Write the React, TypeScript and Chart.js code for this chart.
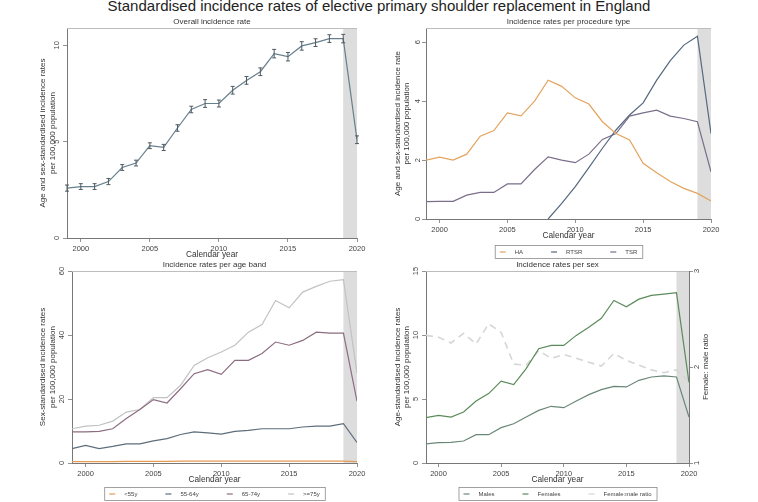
import React, { useEffect, useRef } from "react";
import { Chart, registerables } from "chart.js";
Chart.register(...registerables);

const FONT = '"Liberation Sans", Arial, sans-serif';

// ---------- data ----------
const years = [1999, 2000, 2001, 2002, 2003, 2004, 2005, 2006, 2007, 2008, 2009, 2010, 2011, 2012, 2013, 2014, 2015, 2016, 2017, 2018, 2019, 2020];
const xTicks = [2000, 2005, 2010, 2015, 2020];

const overallRate = [2.59, 2.67, 2.67, 2.93, 3.66, 3.89, 4.79, 4.70, 5.71, 6.67, 6.98, 6.98, 7.67, 8.18, 8.63, 9.57, 9.41, 9.97, 10.14, 10.35, 10.35, 5.10];
const overallLower = [2.43, 2.52, 2.52, 2.77, 3.51, 3.74, 4.64, 4.54, 5.54, 6.50, 6.78, 6.80, 7.47, 7.98, 8.43, 9.35, 9.19, 9.75, 9.94, 10.15, 10.13, 4.90];
const overallUpper = [2.75, 2.82, 2.82, 3.09, 3.81, 4.04, 4.94, 4.86, 5.88, 6.84, 7.18, 7.16, 7.87, 8.38, 8.83, 9.79, 9.63, 10.19, 10.34, 10.55, 10.57, 5.30];
const overallTicks = [0, 5, 10];

const haRate = [2.0, 2.1, 2.0, 2.2, 2.81, 3.0, 3.6, 3.5, 4.0, 4.71, 4.5, 4.11, 3.9, 3.3, 2.9, 2.68, 1.89, 1.57, 1.27, 1.04, 0.87, 0.61];
const rtsrRate = [null, null, null, null, null, null, null, null, null, 0.0, 0.53, 1.1, 1.74, 2.4, 3.02, 3.53, 3.94, 4.71, 5.37, 5.9, 6.2, 2.9];
const tsrRate = [0.59, 0.6, 0.6, 0.81, 0.9, 0.9, 1.19, 1.19, 1.68, 2.11, 2.0, 1.91, 2.2, 2.7, 2.9, 3.49, 3.6, 3.69, 3.49, 3.41, 3.3, 1.6];
const procTicks = [0, 2, 4, 6];

const ageUnder55 = [0.4, 0.4, 0.4, 0.4, 0.5, 0.5, 0.5, 0.5, 0.6, 0.6, 0.6, 0.6, 0.6, 0.6, 0.6, 0.6, 0.6, 0.6, 0.6, 0.6, 0.6, 0.4];
const age55to64 = [4.5, 5.5, 4.5, 5.2, 6.0, 6.0, 6.9, 7.6, 8.9, 9.7, 9.4, 9.0, 9.9, 10.2, 10.7, 10.7, 10.7, 11.25, 11.5, 11.5, 12.3, 6.4];
const age65to74 = [9.7, 9.7, 9.9, 10.7, 13.9, 16.7, 19.8, 18.75, 23.2, 27.9, 29.2, 27.7, 32.1, 32.1, 34.2, 37.8, 36.8, 38.3, 40.9, 40.6, 40.6, 19.3];
const age75plus = [10.7, 11.5, 11.8, 13.1, 15.9, 16.7, 20.4, 20.4, 24.3, 30.5, 32.9, 34.7, 36.8, 40.9, 43.3, 50.8, 48.5, 53.4, 55.2, 56.8, 57.3, 28.1];
const ageTicks = [0, 20, 40, 60];

const maleRate = [1.5, 1.59, 1.61, 1.72, 2.21, 2.21, 2.76, 3.07, 3.59, 4.11, 4.43, 4.32, 4.84, 5.34, 5.73, 5.99, 5.94, 6.46, 6.72, 6.8, 6.72, 3.59];
const femaleRate = [3.54, 3.72, 3.59, 3.98, 4.84, 5.42, 6.4, 6.12, 7.37, 8.93, 9.19, 9.19, 9.97, 10.6, 11.3, 12.7, 12.2, 12.8, 13.1, 13.2, 13.3, 6.3];
const femaleMaleRatio = [2.33, 2.31, 2.25, 2.35, 2.24, 2.45, 2.36, 2.03, 2.02, 2.17, 2.09, 2.13, 2.09, 2.05, 2.01, 2.14, 2.07, 2.02, 1.97, 1.94, 1.97, 1.85];
const sexTicks = [0, 5, 10, 15];
const ratioTicks = [1, 2, 3];

const shadeFrom = 2019;
const shadeTo = 2020;

// ---------- helpers ----------
const pts = (arr: (number | null)[]) => years.map((x, i) => ({ x, y: arr[i] }));

function line(label: string, arr: (number | null)[], color: string, extra: any = {}) {
  return {
    label,
    data: pts(arr),
    borderColor: color,
    backgroundColor: color,
    borderWidth: 1.2,
    pointRadius: 0,
    tension: 0,
    spanGaps: false,
    ...extra,
  };
}

function xScale() {
  return {
    type: "linear",
    min: 1999,
    max: 2020,
    afterBuildTicks: (s: any) => { s.ticks = xTicks.map((v) => ({ value: v })); },
    afterFit: (s: any) => { s.height = 22; },
    ticks: { font: { size: 7.5, family: FONT }, color: "#444", padding: 2, maxRotation: 0, autoSkip: false, callback: (v: any) => String(v) },
    grid: { drawOnChartArea: false, drawTicks: true, tickLength: 4, color: "#777", lineWidth: 0.8 },
    border: { display: true, color: "#777", width: 1 },
    title: { display: true, text: "Calendar year", font: { size: 8.3, family: FONT }, color: "#333", padding: { top: 0, bottom: 0 } },
  };
}

function yScale(min: number, max: number, ticks: number[], width: number, title: string[] | null, titlePad: number, position = "left") {
  return {
    type: "linear",
    position,
    min,
    max,
    afterBuildTicks: (s: any) => { s.ticks = ticks.map((v) => ({ value: v })); },
    afterFit: (s: any) => { s.width = width; },
    ticks: { font: { size: 7.5, family: FONT }, color: "#444", padding: 1.5, minRotation: 90, maxRotation: 90, crossAlign: "center", autoSkip: false, callback: (v: any) => String(v) },
    grid: { drawOnChartArea: false, drawTicks: true, tickLength: 4, color: "#777", lineWidth: 0.8 },
    border: { display: true, color: "#777", width: 1 },
    title: { display: !!title, text: title || "", font: { size: 8, family: FONT }, color: "#333", padding: { top: titlePad, bottom: 0 } },
  };
}

type Deco = {
  title: string;
  legend?: { gapBelow: number };
  errLow?: number[];
  errHigh?: number[];
  rightTitle?: string;
};

function decoPlugin(d: Deco) {
  return {
    id: "stataDeco",
    beforeDatasetsDraw(chart: any) {
      const { ctx, chartArea: ca, scales } = chart;
      const x0 = scales.x.getPixelForValue(shadeFrom);
      const x1 = scales.x.getPixelForValue(shadeTo);
      ctx.save();
      ctx.fillStyle = "#dddddd";
      ctx.fillRect(x0, ca.top, x1 - x0, ca.bottom - ca.top);
      ctx.strokeStyle = "#bdbdbd";
      ctx.lineWidth = 1;
      ctx.beginPath();
      ctx.moveTo(ca.left, ca.top + 0.5);
      ctx.lineTo(ca.right, ca.top + 0.5);
      ctx.stroke();
      ctx.restore();
    },
    afterDatasetsDraw(chart: any) {
      if (!d.errLow || !d.errHigh) return;
      const { ctx, scales } = chart;
      ctx.save();
      ctx.strokeStyle = "#4d5a63";
      ctx.lineWidth = 1;
      years.forEach((yr, i) => {
        const x = scales.x.getPixelForValue(yr);
        const yl = scales.y.getPixelForValue(d.errLow![i]);
        const yh = scales.y.getPixelForValue(d.errHigh![i]);
        ctx.beginPath();
        ctx.moveTo(x, yl); ctx.lineTo(x, yh);
        ctx.moveTo(x - 2, yl); ctx.lineTo(x + 2, yl);
        ctx.moveTo(x - 2, yh); ctx.lineTo(x + 2, yh);
        ctx.stroke();
      });
      ctx.restore();
    },
    afterDraw(chart: any) {
      const { ctx, chartArea: ca } = chart;
      const cx = (ca.left + ca.right) / 2;
      ctx.save();
      ctx.fillStyle = "#333";
      ctx.font = `8px ${FONT}`;
      ctx.textAlign = "center";
      ctx.textBaseline = "middle";
      ctx.fillText(d.title, cx, ca.top - 6);

      if (d.rightTitle) {
        ctx.save();
        ctx.translate(ca.right + 17, (ca.top + ca.bottom) / 2);
        ctx.rotate(-Math.PI / 2);
        ctx.fillText(d.rightTitle, 0, 0);
        ctx.restore();
      }

      if (d.legend) {
        const items = chart.data.datasets;
        ctx.font = `6px ${FONT}`;
        const gap = 28;
        const widths = items.map((ds: any) => ctx.measureText(ds.label).width);
        const total = 5 + widths.reduce((a: number, w: number) => a + 15 + w, 0) + gap * (items.length - 1) + 5;
        const left = cx - total / 2;
        const top = ca.bottom + d.legend.gapBelow;
        const h = 13;
        ctx.strokeStyle = "#8a8a8a";
        ctx.lineWidth = 0.8;
        ctx.strokeRect(left + 0.5, top + 0.5, total, h);
        let x = left + 5;
        const ym = top + h / 2 + 0.5;
        items.forEach((ds: any, i: number) => {
          ctx.strokeStyle = ds.borderColor;
          ctx.lineWidth = 1.2;
          ctx.setLineDash([]);
          ctx.beginPath();
          ctx.moveTo(x, ym); ctx.lineTo(x + 6, ym);
          ctx.stroke();
          ctx.fillStyle = "#444";
          ctx.textAlign = "left";
          ctx.fillText(ds.label, x + 15, ym);
          x += 15 + widths[i] + gap;
        });
      }
      ctx.restore();
    },
  };
}

function Panel({ left, top, width, height, config }: { left: number; top: number; width: number; height: number; config: any }) {
  const ref = useRef<HTMLCanvasElement | null>(null);
  useEffect(() => {
    if (!ref.current) return;
    const chart = new Chart(ref.current, config);
    return () => chart.destroy();
  }, []);
  return (
    <div style={{ position: "absolute", left, top, width, height }}>
      <canvas ref={ref} width={width} height={height} style={{ display: "block", width, height }} />
    </div>
  );
}

function baseOptions(padding: any, scales: any) {
  return {
    responsive: false,
    animation: false,
    layout: { padding },
    plugins: { legend: { display: false }, title: { display: false }, tooltip: { enabled: false } },
    scales,
  };
}

const cfgOverall = {
  type: "line",
  data: { datasets: [line("Overall", overallRate, "#677f8d")] },
  options: baseOptions({ left: 0, top: 28, right: 22, bottom: 2 }, {
    x: xScale(),
    y: yScale(0, 10.9, overallTicks, 67, ["Age and sex-standardised incidence rates", "per 100,000 population"], 38.2),
  }),
  plugins: [decoPlugin({ title: "Overall incidence rate", errLow: overallLower, errHigh: overallUpper })],
};

const cfgProc = {
  type: "line",
  data: {
    datasets: [
      line("HA", haRate, "#e3a45f"),
      line("RTSR", rtsrRate, "#55687e"),
      line("TSR", tsrRate, "#7a6e8a"),
    ],
  },
  options: baseOptions({ left: 0, top: 28, right: 47, bottom: 21 }, {
    x: xScale(),
    y: yScale(0, 6.48, procTicks, 47, ["Age and sex-standardised incidence rate", "per 100,000 population"], 13.7),
  }),
  plugins: [decoPlugin({ title: "Incidence rates per procedure type", legend: { gapBelow: 26 } })],
};

const cfgAge = {
  type: "line",
  data: {
    datasets: [
      line("<55y", ageUnder55, "#e59a55"),
      line("55-64y", age55to64, "#5e6d7b"),
      line("65-74y", age65to74, "#8c6c80"),
      line(">=75y", age75plus, "#c2c2c2"),
    ],
  },
  options: baseOptions({ left: 0, top: 9, right: 22, bottom: 17 }, {
    x: xScale(),
    y: yScale(0, 60, ageTicks, 72, ["Sex-standardised incidence rates", "per 100,000 population"], 38.2),
  }),
  plugins: [decoPlugin({ title: "Incidence rates per age band", legend: { gapBelow: 24 } })],
};

const cfgSex = {
  type: "line",
  data: {
    datasets: [
      line("Males", maleRate, "#6a8878"),
      line("Females", femaleRate, "#5b8b5b"),
      line("Female:male ratio", femaleMaleRatio, "#d6d6d6", { yAxisID: "y2", borderDash: [7, 5], borderWidth: 1.6 }),
    ],
  },
  options: baseOptions({ left: 0, top: 9, right: 49, bottom: 17 }, {
    x: xScale(),
    y: yScale(0, 15, sexTicks, 47, ["Age-standardised incidence rates", "per 100,000 population"], 13.7),
    y2: yScale(1, 3, ratioTicks, 20, null, 0, "right"),
  }),
  plugins: [decoPlugin({ title: "Incidence rates per sex", legend: { gapBelow: 24 }, rightTitle: "Female: male ratio" })],
};

export default function App() {
  return (
    <div style={{ position: "fixed", left: 0, top: 0, width: 758, height: 502, background: "#fff", overflow: "hidden", fontFamily: FONT }}>
      <div style={{ position: "absolute", left: 0, top: -3, width: 758, textAlign: "center", fontSize: 15, lineHeight: "17px", color: "#222", whiteSpace: "nowrap" }}>
        Standardised incidence rates of elective primary shoulder replacement in England
      </div>
      <Panel left={0} top={0} width={379} height={262} config={cfgOverall} />
      <Panel left={379} top={0} width={379} height={262} config={cfgProc} />
      <Panel left={0} top={262} width={379} height={240} config={cfgAge} />
      <Panel left={379} top={262} width={379} height={240} config={cfgSex} />
    </div>
  );
}
